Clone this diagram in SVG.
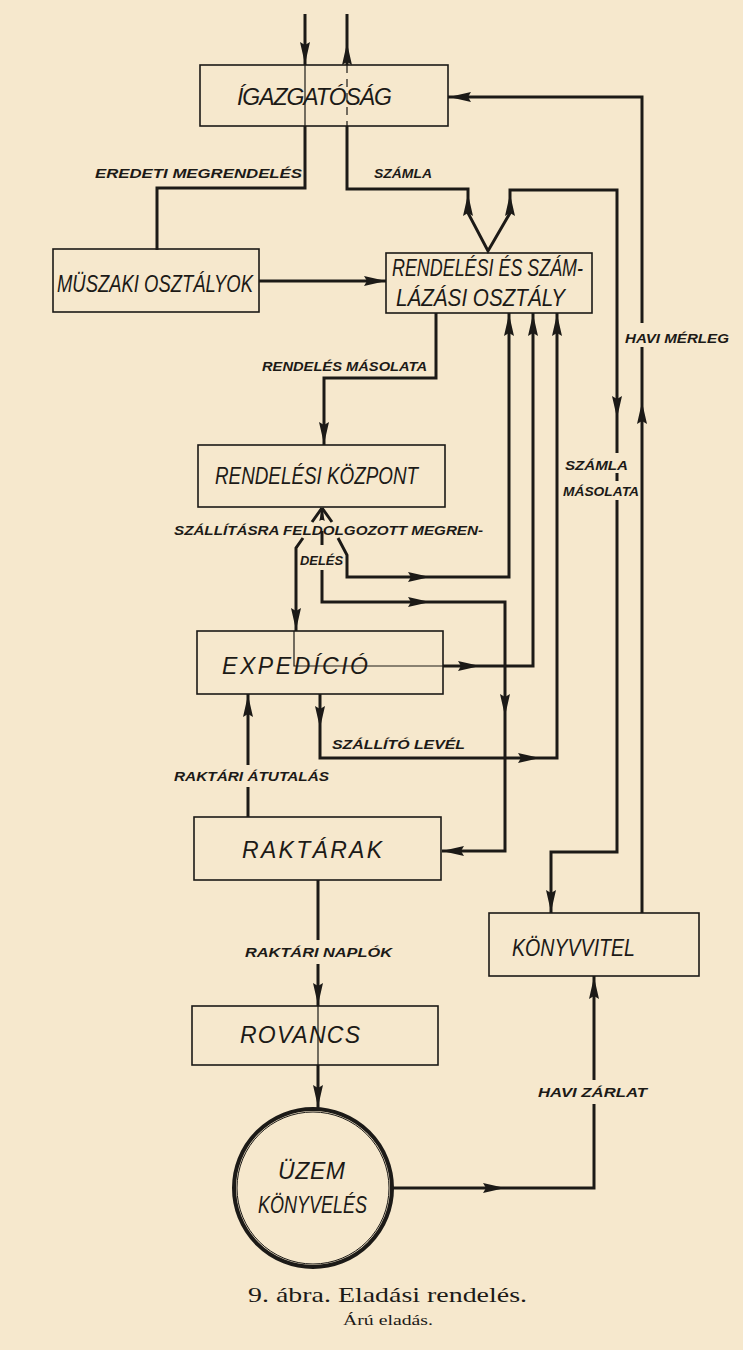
<svg xmlns="http://www.w3.org/2000/svg" xmlns:xlink="http://www.w3.org/1999/xlink" width="743" height="1350" viewBox="0 0 743 1350">
<style>
.bg{fill:#f6e8cd}
.box{fill:none;stroke:#1c1a17;stroke-width:1.6}
.ln{fill:none;stroke:#1c1a17;stroke-width:3;stroke-linejoin:miter;stroke-linecap:butt}
.thin{fill:none;stroke:#1c1a17;stroke-width:1.2}
.dash{fill:none;stroke:#1c1a17;stroke-width:1.2;stroke-dasharray:8 6}
.ah{fill:#1c1a17}
.nt{font-family:"Liberation Sans","DejaVu Sans",sans-serif;font-style:italic;font-size:23px;fill:#1c1a17}
.lb{font-family:"Liberation Sans","DejaVu Sans",sans-serif;font-style:italic;font-weight:bold;font-size:13.5px;fill:#1c1a17}
.cap{font-family:"Liberation Serif","DejaVu Serif",serif;fill:#1c1a17}
</style>
<defs>
<path id="ah" d="M0,0 L-22,-5 L-19,0 L-22,5 Z"/>
</defs>
<rect class="bg" x="0" y="0" width="743" height="1350"/>

<g id="igazgatosag">
<rect class="box" x="200" y="65" width="248" height="61"/>
<text class="nt" x="237" y="105" textLength="155" lengthAdjust="spacing">ÍGAZGATÓSÁG</text>
</g>
<g id="muszaki">
<rect class="box" x="53" y="249" width="206" height="63"/>
<text class="nt" x="57" y="292" textLength="196" lengthAdjust="spacingAndGlyphs">MÜSZAKI OSZTÁLYOK</text>
</g>
<g id="rendelesi-szamlazasi">
<rect class="box" x="386" y="253" width="206" height="60"/>
<text class="nt" x="392" y="276" textLength="191" lengthAdjust="spacingAndGlyphs">RENDELÉSI ÉS SZÁM-</text>
<text class="nt" x="396" y="306" textLength="169" lengthAdjust="spacingAndGlyphs">LÁZÁSI OSZTÁLY</text>
</g>
<g id="rendelesi-kozpont">
<rect class="box" x="198" y="445" width="247" height="62"/>
<text class="nt" x="215" y="484" textLength="203" lengthAdjust="spacingAndGlyphs">RENDELÉSI  KÖZPONT</text>
</g>
<g id="expedicio">
<rect class="box" x="197" y="631" width="246" height="63"/>
<text class="nt" x="222" y="674" textLength="146" lengthAdjust="spacing">EXPEDÍCIÓ</text>
</g>
<g id="raktarak">
<rect class="box" x="194" y="817" width="247" height="63"/>
<text class="nt" x="242" y="858" textLength="140" lengthAdjust="spacing">RAKTÁRAK</text>
</g>
<g id="rovancs">
<rect class="box" x="192" y="1006" width="246" height="59"/>
<text class="nt" x="240" y="1043" textLength="120" lengthAdjust="spacing">ROVANCS</text>
</g>
<g id="konyvvitel">
<rect class="box" x="489" y="913" width="210" height="63"/>
<text class="nt" x="512" y="956" textLength="123" lengthAdjust="spacingAndGlyphs">KÖNYVVITEL</text>
</g>
<g id="uzem-konyveles">
<circle cx="313" cy="1188" r="79" fill="none" stroke="#1c1a17" stroke-width="4"/>
<circle cx="313" cy="1188" r="76" fill="none" stroke="#1c1a17" stroke-width="1"/>
<text class="nt" x="278" y="1179" textLength="67" lengthAdjust="spacing">ÜZEM</text>
<text class="nt" x="258" y="1213" textLength="109" lengthAdjust="spacingAndGlyphs">KÖNYVELÉS</text>
</g>

<g id="connectors">
<path class="ln" d="M305,14 V65 M305,126 V188 H157 V250"/>
<path class="thin" d="M305,65 V126"/>
<path class="ln" d="M347,14 V65 M347,126 V189 H468 V213 L488,251 L510,213 V190 H617 V453 M617,473 V481 M617,500 V852 H551 V913"/>
<path class="dash" d="M347,65 V126"/>
<path class="ln" d="M642,913 V347 M642,323 V97 H448"/>
<path class="ln" d="M259,281 H386"/>
<path class="ln" d="M436,313 V378 H324 V445"/>
<path class="ln" d="M509,313 V577 H347 V555 L338,538 M332,522 L322,508"/>
<path class="ln" d="M533,313 V666 H443"/>
<path class="thin" d="M443,666 H294 V631"/>
<path class="ln" d="M557,313 V758 H320 V694"/>
<path class="ln" d="M322,508 L312,522 M303,538 L296,548 V631"/>
<path class="ln" d="M322,508 V520 M322,531 V545 M322,570 V602 H505 V851 H442"/>
<path class="ln" d="M248,817 V787 M248,765 V694"/>
<path class="ln" d="M318,880 V940 M318,964 V1006 M318,1065 V1108"/>
<path class="thin" d="M318,1006 V1065"/>
<path class="ln" d="M393,1188 H594 V1104 M594,1080 V976"/>

<g class="ah">
<use xlink:href="#ah" transform="translate(305,64) rotate(90)"/>
<use xlink:href="#ah" transform="translate(347,43) rotate(-90)"/>
<use xlink:href="#ah" transform="translate(468,194) rotate(-90)"/>
<use xlink:href="#ah" transform="translate(510,194) rotate(-90)"/>
<use xlink:href="#ah" transform="translate(617,418) rotate(90)"/>
<use xlink:href="#ah" transform="translate(551,912) rotate(90)"/>
<use xlink:href="#ah" transform="translate(642,402) rotate(-90)"/>
<use xlink:href="#ah" transform="translate(449,97) rotate(180)"/>
<use xlink:href="#ah" transform="translate(386,281)"/>
<use xlink:href="#ah" transform="translate(324,444) rotate(90)"/>
<use xlink:href="#ah" transform="translate(509,314) rotate(-90)"/>
<use xlink:href="#ah" transform="translate(533,314) rotate(-90)"/>
<use xlink:href="#ah" transform="translate(557,314) rotate(-90)"/>
<use xlink:href="#ah" transform="translate(430,577)"/>
<use xlink:href="#ah" transform="translate(322,509) rotate(-90) scale(0.55)"/>
<use xlink:href="#ah" transform="translate(296,630) rotate(90)"/>
<use xlink:href="#ah" transform="translate(480,666)"/>
<use xlink:href="#ah" transform="translate(320,728) rotate(90)"/>
<use xlink:href="#ah" transform="translate(540,758)"/>
<use xlink:href="#ah" transform="translate(430,602)"/>
<use xlink:href="#ah" transform="translate(505,716) rotate(90)"/>
<use xlink:href="#ah" transform="translate(442,851) rotate(180)"/>
<use xlink:href="#ah" transform="translate(248,695) rotate(-90)"/>
<use xlink:href="#ah" transform="translate(318,1005) rotate(90)"/>
<use xlink:href="#ah" transform="translate(318,1107) rotate(90)"/>
<use xlink:href="#ah" transform="translate(505,1188)"/>
<use xlink:href="#ah" transform="translate(594,977) rotate(-90)"/>
</g>

<g id="connector-labels">
<text class="lb" x="95" y="178" textLength="207" lengthAdjust="spacingAndGlyphs">EREDETI MEGRENDELÉS</text>
<text class="lb" x="374" y="178" textLength="58" lengthAdjust="spacingAndGlyphs">SZÁMLA</text>
<text class="lb" x="625" y="343" textLength="104" lengthAdjust="spacingAndGlyphs">HAVI MÉRLEG</text>
<text class="lb" x="262" y="371" textLength="165" lengthAdjust="spacingAndGlyphs">RENDELÉS MÁSOLATA</text>
<text class="lb" x="565" y="470" textLength="63" lengthAdjust="spacingAndGlyphs">SZÁMLA</text>
<text class="lb" x="563" y="496" textLength="76" lengthAdjust="spacingAndGlyphs">MÁSOLATA</text>
<text class="lb" x="174" y="535" textLength="309" lengthAdjust="spacingAndGlyphs">SZÁLLÍTÁSRA FELDOLGOZOTT MEGREN-</text>
<text class="lb" x="300" y="565" textLength="43" lengthAdjust="spacingAndGlyphs">DELÉS</text>
<text class="lb" x="332" y="749" textLength="133" lengthAdjust="spacingAndGlyphs">SZÁLLÍTÓ LEVÉL</text>
<text class="lb" x="174" y="781" textLength="155" lengthAdjust="spacingAndGlyphs">RAKTÁRI ÁTUTALÁS</text>
<text class="lb" x="245" y="957" textLength="147" lengthAdjust="spacingAndGlyphs">RAKTÁRI NAPLÓK</text>
<text class="lb" x="538" y="1097" textLength="109" lengthAdjust="spacingAndGlyphs">HAVI ZÁRLAT</text>
</g>
</g>

<g id="caption">
<text class="cap" x="248" y="1302" font-size="22" textLength="279" lengthAdjust="spacingAndGlyphs">9. ábra. Eladási rendelés.</text>
<text class="cap" x="343" y="1325" font-size="14" textLength="90" lengthAdjust="spacingAndGlyphs">Árú eladás.</text>
</g>
</svg>
